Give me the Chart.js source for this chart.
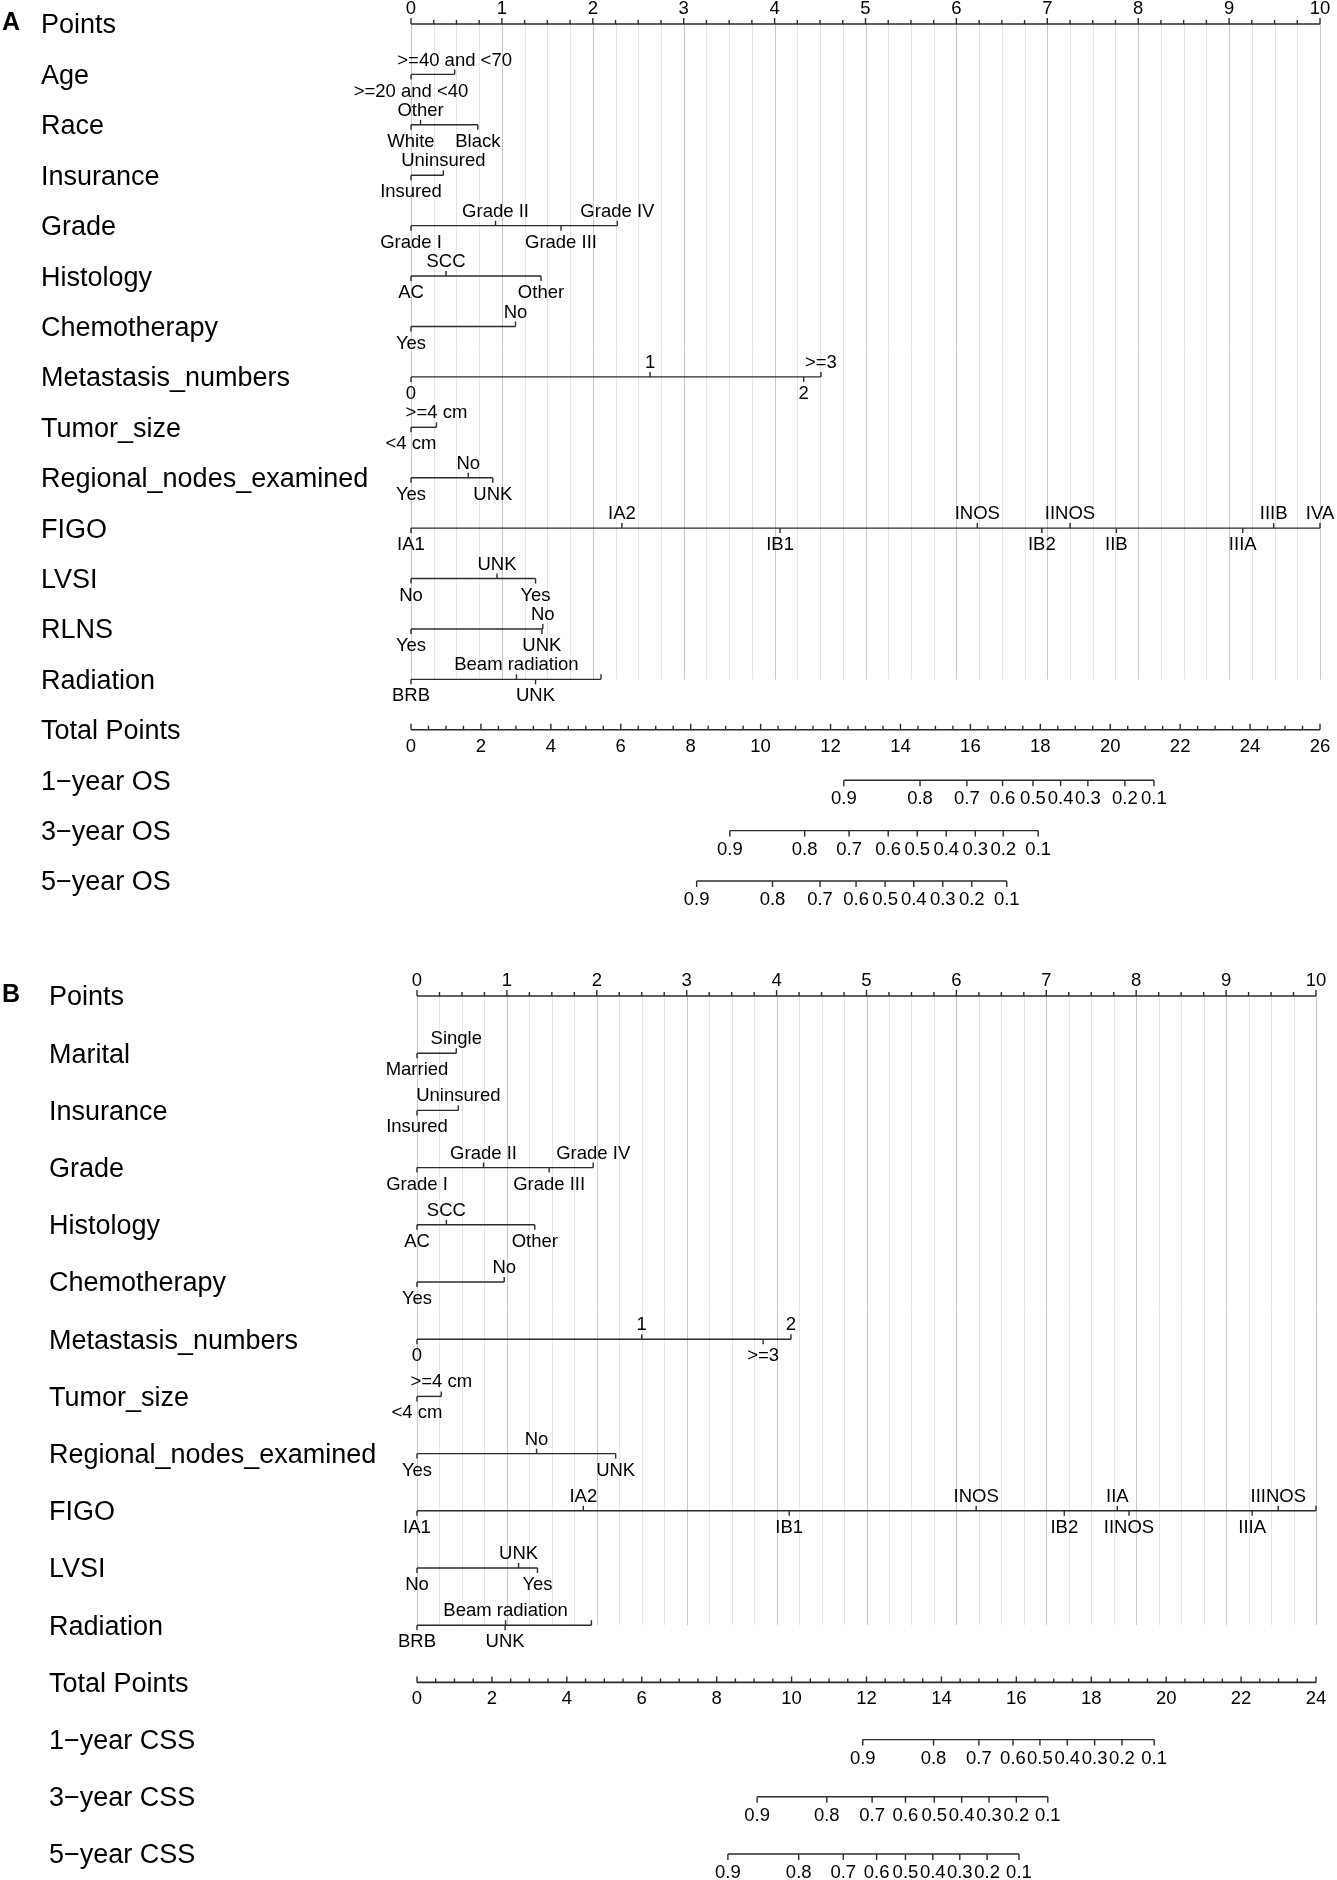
<!DOCTYPE html>
<html>
<head>
<meta charset="utf-8">
<title>Nomogram</title>
<script src="https://cdn.jsdelivr.net/npm/chart.js@4.4.1/dist/chart.umd.min.js"></script>
<style>
  body { margin: 0; background: #fff; }
  .panel { position: relative; width: 1337px; height: 940px; }
</style>
</head>
<body>
<div class="panel"><canvas id="nomoA" width="1337" height="940"></canvas></div>
<div class="panel"><canvas id="nomoB" width="1337" height="940"></canvas></div>
<script>
// ---------- Panel A : overall survival ----------
const ageNamesA = [">=20 and <40", ">=40 and <70"];
const agePtsA = [0, 0.48];
const raceNamesA = ["White", "Other", "Black"];
const racePtsA = [0, 0.105, 0.735];
const insNamesA = ["Insured", "Uninsured"];
const insPtsA = [0, 0.356];
const gradeNamesA = ["Grade I", "Grade II", "Grade III", "Grade IV"];
const gradePtsA = [0, 0.93, 1.65, 2.27];
const histNamesA = ["AC", "SCC", "Other"];
const histPtsA = [0, 0.385, 1.43];
const chemoNamesA = ["Yes", "No"];
const chemoPtsA = [0, 1.15];
const metNamesA = ["0", "1", "2", ">=3"];
const metPtsA = [0, 2.63, 4.32, 4.51];
const tumorNamesA = ["<4 cm", ">=4 cm"];
const tumorPtsA = [0, 0.28];
const nodesNamesA = ["Yes", "No", "UNK"];
const nodesPtsA = [0, 0.63, 0.90];
const figoNamesA = ["IA1", "IA2", "IB1", "INOS", "IB2", "IINOS", "IIB", "IIIA", "IIIB", "IVA"];
const figoPtsA = [0, 2.32, 4.06, 6.23, 6.94, 7.25, 7.76, 9.15, 9.49, 10];
const lvsiNamesA = ["No", "UNK", "Yes"];
const lvsiPtsA = [0, 0.946, 1.37];
const rlnsNamesA = ["Yes", "UNK", "No"];
const rlnsPtsA = [0, 1.44, 1.45];
const radNamesA = ["BRB", "Beam radiation", "UNK", ""];
const radPtsA = [0, 1.16, 1.37, 2.09];
const totalMaxA = 26;
const survLabels = ["0.9", "0.8", "0.7", "0.6", "0.5", "0.4", "0.3", "0.2", "0.1"];
const os1Total = [12.38, 14.56, 15.90, 16.92, 17.79, 18.58, 19.36, 20.42, 21.25];
const os3Total = [9.12, 11.26, 12.53, 13.65, 14.48, 15.31, 16.14, 16.94, 17.94];
const os5Total = [8.17, 10.34, 11.70, 12.73, 13.56, 14.38, 15.21, 16.04, 17.04];

// ---------- Panel B : cancer-specific survival ----------
const maritalNamesB = ["Married", "Single"];
const maritalPtsB = [0, 0.437];
const insNamesB = ["Insured", "Uninsured"];
const insPtsB = [0, 0.46];
const gradeNamesB = ["Grade I", "Grade II", "Grade III", "Grade IV"];
const gradePtsB = [0, 0.74, 1.47, 1.96];
const histNamesB = ["AC", "SCC", "Other"];
const histPtsB = [0, 0.327, 1.31];
const chemoNamesB = ["Yes", "No"];
const chemoPtsB = [0, 0.97];
const metNamesB = ["0", "1", ">=3", "2"];
const metPtsB = [0, 2.50, 3.85, 4.16];
const tumorNamesB = ["<4 cm", ">=4 cm"];
const tumorPtsB = [0, 0.27];
const nodesNamesB = ["Yes", "No", "UNK"];
const nodesPtsB = [0, 1.33, 2.21];
const figoNamesB = ["IA1", "IA2", "IB1", "INOS", "IB2", "IIA", "IINOS", "IIIA", "IIINOS", ""];
const figoPtsB = [0, 1.85, 4.14, 6.22, 7.20, 7.79, 7.92, 9.29, 9.58, 10];
const lvsiNamesB = ["No", "UNK", "Yes"];
const lvsiPtsB = [0, 1.13, 1.34];
const radNamesB = ["BRB", "UNK", "Beam radiation", ""];
const radPtsB = [0, 0.98, 0.985, 1.94];
const totalMaxB = 24;
const css1Total = [11.90, 13.79, 15.00, 15.91, 16.63, 17.36, 18.09, 18.82, 19.68];
const css3Total = [9.08, 10.94, 12.15, 13.04, 13.81, 14.54, 15.27, 16.00, 16.84];
const css5Total = [8.30, 10.19, 11.38, 12.27, 13.04, 13.77, 14.49, 15.22, 16.07];

// ---------- layout ----------
const FONT = '"Liberation Sans", Arial, Helvetica, sans-serif';
const LINE = '#2b2b2b';

function factor(title, names, pts, sides) { return { kind: 'factor', title, names, pts, sides }; }
function surv(title, totals, max) { return { kind: 'surv', title, totals, max }; }

const rowsA = [
  { kind: 'points', title: 'Points' },
  factor('Age', ageNamesA, agePtsA, 'ba'),
  factor('Race', raceNamesA, racePtsA, 'bab'),
  factor('Insurance', insNamesA, insPtsA, 'ba'),
  factor('Grade', gradeNamesA, gradePtsA, 'baba'),
  factor('Histology', histNamesA, histPtsA, 'bab'),
  factor('Chemotherapy', chemoNamesA, chemoPtsA, 'ba'),
  factor('Metastasis_numbers', metNamesA, metPtsA, 'baba'),
  factor('Tumor_size', tumorNamesA, tumorPtsA, 'ba'),
  factor('Regional_nodes_examined', nodesNamesA, nodesPtsA, 'bab'),
  factor('FIGO', figoNamesA, figoPtsA, 'babababbaa'),
  factor('LVSI', lvsiNamesA, lvsiPtsA, 'bab'),
  factor('RLNS', rlnsNamesA, rlnsPtsA, 'bba'),
  factor('Radiation', radNamesA, radPtsA, 'baba'),
  { kind: 'total', title: 'Total Points', max: totalMaxA },
  surv('1\u2212year OS', os1Total, totalMaxA),
  surv('3\u2212year OS', os3Total, totalMaxA),
  surv('5\u2212year OS', os5Total, totalMaxA)
];

const rowsB = [
  { kind: 'points', title: 'Points' },
  factor('Marital', maritalNamesB, maritalPtsB, 'ba'),
  factor('Insurance', insNamesB, insPtsB, 'ba'),
  factor('Grade', gradeNamesB, gradePtsB, 'baba'),
  factor('Histology', histNamesB, histPtsB, 'bab'),
  factor('Chemotherapy', chemoNamesB, chemoPtsB, 'ba'),
  factor('Metastasis_numbers', metNamesB, metPtsB, 'baba'),
  factor('Tumor_size', tumorNamesB, tumorPtsB, 'ba'),
  factor('Regional_nodes_examined', nodesNamesB, nodesPtsB, 'bab'),
  factor('FIGO', figoNamesB, figoPtsB, 'babababbaa'),
  factor('LVSI', lvsiNamesB, lvsiPtsB, 'bab'),
  factor('Radiation', radNamesB, radPtsB, 'bbaa'),
  { kind: 'total', title: 'Total Points', max: totalMaxB },
  surv('1\u2212year CSS', css1Total, totalMaxB),
  surv('3\u2212year CSS', css3Total, totalMaxB),
  surv('5\u2212year CSS', css5Total, totalMaxB)
];

// segment of each row, in points units (0..10)
function rowSegment(r) {
  if (r.kind === 'factor') return [Math.min(...r.pts), Math.max(...r.pts)];
  if (r.kind === 'surv') return [r.totals[0] * 10 / r.max, r.totals[r.totals.length - 1] * 10 / r.max];
  return [0, 10];
}

function line(ctx, x1, y1, x2, y2) {
  ctx.beginPath(); ctx.moveTo(x1, y1); ctx.lineTo(x2, y2); ctx.stroke();
}

const nomoPlugin = {
  id: 'nomo',
  beforeDatasetsDraw(chart, args, o) {
    const { ctx, scales: { x, y } } = chart;
    const yTop = y.getPixelForValue(0);
    const yEnd = y.getPixelForValue(o.gridEnd);
    ctx.save();
    ctx.lineWidth = 1;
    for (let k = 0; k <= 40; k++) {
      const v = k / 4;
      const px = Math.round(x.getPixelForValue(v)) + 0.5;
      ctx.strokeStyle = k % 4 === 0 ? '#c9c9c9' : '#e6e6e6';
      line(ctx, px, yTop, px, yEnd);
    }
    ctx.restore();
  },
  afterDatasetsDraw(chart, args, o) {
    const { ctx, scales: { x, y } } = chart;
    ctx.save();
    ctx.fillStyle = '#000';
    ctx.strokeStyle = LINE;
    ctx.lineWidth = 1.4;

    // panel letter
    ctx.font = 'bold 25px ' + FONT;
    ctx.textAlign = 'left';
    ctx.textBaseline = 'middle';
    ctx.fillText(o.letter, o.letterX, y.getPixelForValue(0) - 1);

    o.rows.forEach((r, i) => {
      const py = y.getPixelForValue(i);
      ctx.font = '27px ' + FONT;
      ctx.textAlign = 'left';
      ctx.textBaseline = 'middle';
      ctx.fillText(r.title, o.titleX, py + 2);

      ctx.font = '18.5px ' + FONT;
      ctx.textAlign = 'center';
      if (r.kind === 'points') {
        for (let k = 0; k <= 40; k++) {
          const px = x.getPixelForValue(k / 4);
          line(ctx, px, py, px, py - (k % 4 === 0 ? 6 : 4));
          if (k % 4 === 0) ctx.fillText(String(k / 4), px, py - 15);
        }
      } else if (r.kind === 'total') {
        for (let t = 0; t <= r.max; t += 0.5) {
          const px = x.getPixelForValue(t * 10 / r.max);
          const major = t % 2 === 0;
          line(ctx, px, py, px, py - (major ? 6 : 4));
          if (major) ctx.fillText(String(t), px, py + 17);
        }
      } else if (r.kind === 'surv') {
        r.totals.forEach((t, j) => {
          const px = x.getPixelForValue(t * 10 / r.max);
          line(ctx, px, py, px, py + 6);
          ctx.fillText(survLabels[j], px, py + 19);
        });
      } else {
        r.pts.forEach((p, j) => {
          const px = x.getPixelForValue(p);
          const up = r.sides[j] === 'a';
          line(ctx, px, py, px, up ? py - 5 : py + 5);
          if (r.names[j]) ctx.fillText(r.names[j], px, up ? py - 14 : py + 17);
        });
      }
    });
    ctx.restore();
  }
};

function buildNomogram(id, rows, opts) {
  const datasets = rows.map((r, i) => {
    const seg = rowSegment(r);
    return {
      label: r.title,
      data: [{ x: seg[0], y: i }, { x: seg[1], y: i }],
      showLine: true,
      borderColor: LINE,
      borderWidth: r.kind === 'total' || r.kind === 'points' ? 1.6 : 1.4,
      pointRadius: 0,
      clip: false
    };
  });
  return new Chart(document.getElementById(id), {
    type: 'scatter',
    data: { datasets },
    options: {
      responsive: false,
      animation: false,
      devicePixelRatio: 1,
      layout: { padding: opts.padding },
      scales: {
        x: { type: 'linear', min: 0, max: 10, display: false },
        y: { type: 'linear', min: 0, max: rows.length - 1, reverse: true, display: false }
      },
      plugins: {
        legend: { display: false },
        tooltip: { enabled: false },
        nomo: { rows, letter: opts.letter, letterX: opts.letterX, titleX: opts.titleX, gridEnd: opts.gridEnd }
      }
    },
    plugins: [nomoPlugin]
  });
}

buildNomogram('nomoA', rowsA, {
  letter: 'A', letterX: 2, titleX: 41, gridEnd: 13,
  padding: { left: 411, right: 17, top: 24, bottom: 59 }
});
buildNomogram('nomoB', rowsB, {
  letter: 'B', letterX: 2, titleX: 49, gridEnd: 11,
  padding: { left: 417, right: 21, top: 56, bottom: 26 }
});
</script>
</body>
</html>
